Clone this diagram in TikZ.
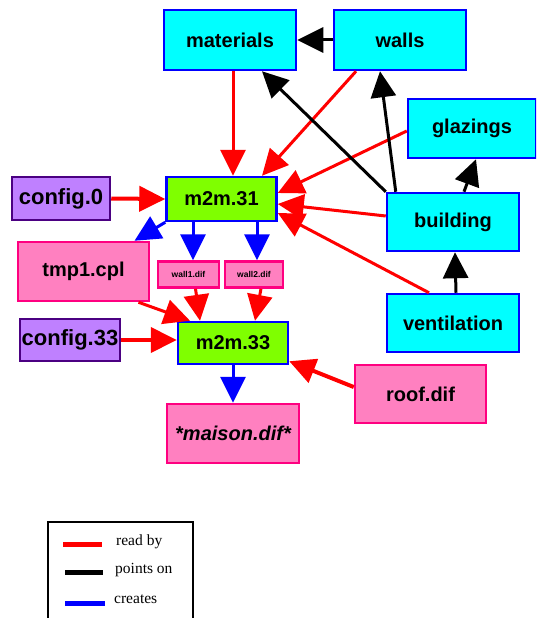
\documentclass[tikz,border=0pt]{standalone}
\usepackage{fontspec}
\setmainfont{Liberation Serif}
\newfontfamily\hv{Liberation Sans}
\usetikzlibrary{arrows.meta}
\definecolor{cyanf}{RGB}{0,255,255}
\definecolor{blueb}{RGB}{0,0,255}
\definecolor{greenf}{RGB}{127,255,0}
\definecolor{purplef}{RGB}{191,128,255}
\definecolor{purpleb}{RGB}{75,0,130}
\definecolor{pinkf}{RGB}{255,128,192}
\definecolor{pinkb}{RGB}{255,0,128}
\definecolor{redl}{RGB}{255,0,0}
\tikzset{
  box/.style={rectangle, inner sep=0pt, line width=2.5pt, font=\hv\bfseries\fontsize{20}{24}\selectfont, text=black},
  cybox/.style={box, fill=cyanf, draw=blueb},
  grbox/.style={box, fill=greenf, draw=blueb},
  pubox/.style={box, fill=purplef, draw=purpleb, font=\hv\bfseries\fontsize{22}{26}\selectfont},
  pkbox/.style={box, fill=pinkf, draw=pinkb},
  tip/.style={-{Triangle[length=26pt,width=25pt]}},
  readby/.style={tip, draw=redl, fill=redl, line width=3pt},
  pointson/.style={tip, draw=black, fill=black, line width=3pt},
  creates/.style={tip, draw=blueb, fill=blueb, line width=3pt},
  legtext/.style={anchor=west, inner sep=0pt, font=\fontsize{15.5}{18}\selectfont},
}
\begin{document}
\begin{tikzpicture}[x=1pt,y=-1pt]
\useasboundingbox (0,0) rectangle (536,618);
\clip (0,0) rectangle (536,618);
% nodes
\node[cybox, minimum width=132pt, minimum height=60pt] (materials) at (230,40) {materials};
\node[cybox, minimum width=132pt, minimum height=60pt] (walls) at (400,40) {walls};
\node[cybox, minimum width=128pt, minimum height=59pt] (glazings) at (472,128.5) {glazings};
\node[grbox, minimum width=110pt, minimum height=44pt] (m2m31) at (221.5,199) {m2m.31};
\node[pubox, minimum width=98pt, minimum height=43pt] (config0) at (61,198.5) {config.0};
\node[cybox, minimum width=132pt, minimum height=58pt] (building) at (453,222) {building};
\node[pkbox, minimum width=131pt, minimum height=59pt] (tmp1) at (83.5,271.5) {tmp1.cpl};
\node[pkbox, minimum width=61pt, minimum height=26pt, font=\hv\bfseries\fontsize{8.5}{10}\selectfont] (wall1) at (188.5,274.5) {wall1.dif};
\node[pkbox, minimum width=58pt, minimum height=26pt, font=\hv\bfseries\fontsize{8.5}{10}\selectfont] (wall2) at (254,274.5) {wall2.dif};
\node[cybox, minimum width=132pt, minimum height=58pt] (ventilation) at (453,323) {ventilation};
\node[pubox, minimum width=100pt, minimum height=42pt] (config33) at (70,340) {config.33};
\node[grbox, minimum width=110pt, minimum height=42pt] (m2m33) at (233,343) {m2m.33};
\node[pkbox, minimum width=131pt, minimum height=58pt] (roof) at (420.5,394) {roof.dif};
\node[pkbox, minimum width=132pt, minimum height=59pt, font=\hv\bfseries\itshape\fontsize{20}{24}\selectfont] (maison) at (233,433.5) {*maison.dif*};
% read by
\draw[readby] ([xshift=3pt]materials.south) -- ([xshift=11.5pt]m2m31.north);
\draw[readby] ([xshift=-44pt]walls.south) -- ([xshift=40.5pt]m2m31.north);
\draw[readby] ([yshift=-2.5pt]glazings.west) -- ([yshift=6pt]m2m31.east);
\draw[readby] ([yshift=6pt]building.west) -- ([yshift=-5pt]m2m31.east);
\draw[readby] ([xshift=-24pt]ventilation.north) -- ([yshift=-14pt]m2m31.east);
\draw[readby, line width=4pt] (config0.east) -- (m2m31.west);
\draw[readby] ([xshift=55pt]tmp1.south) -- ([xshift=-43pt]m2m33.north);
\draw[readby] ([xshift=7pt]wall1.south) -- ([xshift=-33pt]m2m33.north);
\draw[readby] ([xshift=7pt]wall2.south) -- ([xshift=22pt]m2m33.north);
\draw[readby, line width=4pt] (config33.east) -- ([yshift=3pt]m2m33.west);
\draw[readby, line width=4pt] ([yshift=7pt]roof.west) -- ([yshift=4pt]m2m33.south east);
% points on
\draw[pointson] (walls.west) -- (materials.east);
\draw[pointson] (building.north west) -- ([xshift=32pt]materials.south);
\draw[pointson] ([xshift=10pt]building.north west) -- ([xshift=-20pt]walls.south);
\draw[pointson] ([xshift=11pt]building.north) -- ([xshift=4pt]glazings.south);
\draw[pointson] ([xshift=3pt]ventilation.north) -- ([xshift=2pt]building.south);
% creates
\draw[creates] (m2m31.south west) -- ([xshift=51pt]tmp1.north);
\draw[creates] ([xshift=-28.5pt]m2m31.south) -- ([xshift=4.5pt]wall1.north);
\draw[creates] ([xshift=35.5pt]m2m31.south) -- ([xshift=3pt]wall2.north);
\draw[creates] (m2m33.south) -- (maison.north);
% legend
\draw[line width=1.5pt] (48,640) -- (48,522) -- (193,522) -- (193,640);
\draw[redl, line width=5pt] (63,544) -- (102,544);
\draw[black, line width=5pt] (65,572) -- (103,572);
\draw[blueb, line width=5pt] (65,603) -- (105,603);
\node[legtext] (lr) at (116,542) {read by};
\node[legtext] (lp) at (115,570) {points on};
\node[legtext] (lc) at (114,599) {creates};
\end{tikzpicture}
\end{document}
